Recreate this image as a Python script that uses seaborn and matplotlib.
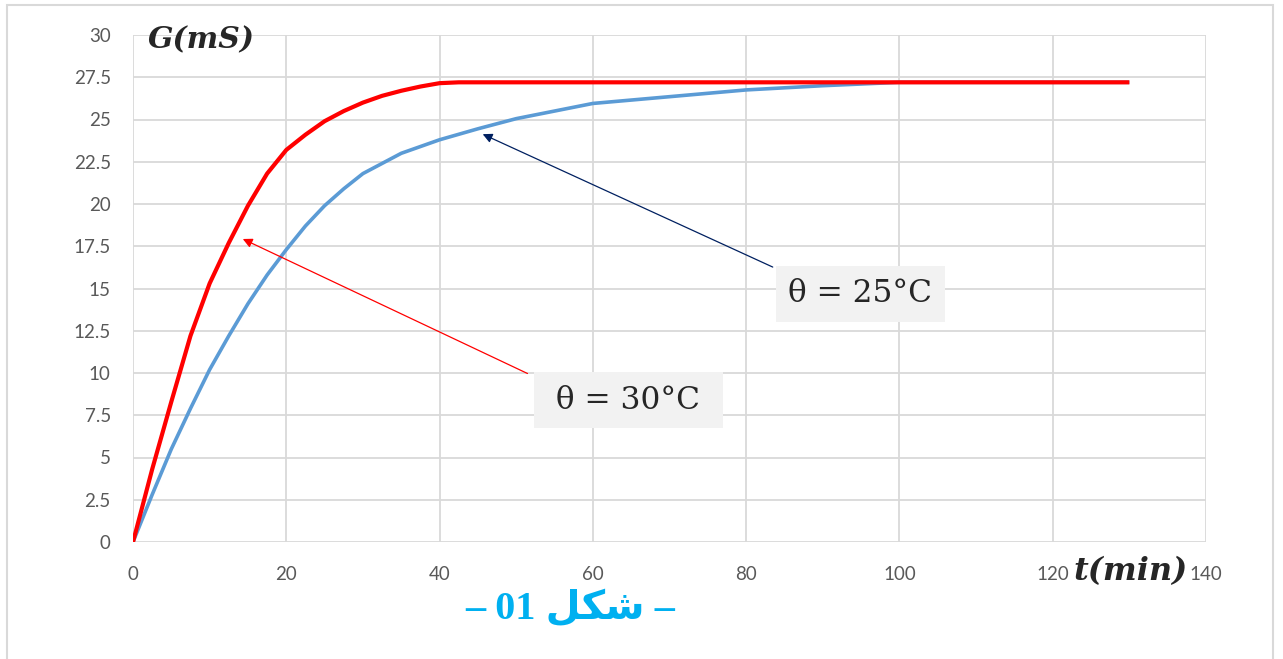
import numpy as np
import pandas as pd
import matplotlib
matplotlib.use("Agg")
import matplotlib.pyplot as plt
import seaborn as sns
from matplotlib.patches import Rectangle
from matplotlib.ticker import FuncFormatter, MultipleLocator

# data
t_30 = [0, 2.5, 5, 7.5, 10, 12.5, 15, 17.5, 20, 22.5, 25, 27.5, 30, 32.5, 35, 37.5, 40,
        42.5, 45, 50, 60, 80, 100, 130]
g_30 = [0, 4.3, 8.3, 12.2, 15.3, 17.7, 19.9, 21.8, 23.2, 24.1, 24.9, 25.5, 26.0, 26.4, 26.7,
        26.95, 27.15, 27.2, 27.2, 27.2, 27.2, 27.2, 27.2, 27.2]
t_25 = [0, 2.5, 5, 7.5, 10, 12.5, 15, 17.5, 20, 22.5, 25, 27.5, 30, 35, 40, 45, 50, 55, 60,
        70, 80, 90, 100, 110, 130]
g_25 = [0, 2.8, 5.5, 7.9, 10.2, 12.2, 14.1, 15.8, 17.3, 18.7, 19.9, 20.9, 21.8, 23.0, 23.8,
        24.45, 25.05, 25.5, 25.95, 26.35, 26.75, 27.0, 27.2, 27.2, 27.2]
series = ["30", "25"]
colors = ["#ff0000", "#5b9bd5"]
x_ticks = [0, 20, 40, 60, 80, 100, 120, 140]

df = pd.concat([
    pd.DataFrame({"t": t_30, "G": g_30, "theta": series[0]}),
    pd.DataFrame({"t": t_25, "G": g_25, "theta": series[1]}),
])

sns.set_style("white")
plt.rcParams["font.family"] = ["Lato", "DejaVu Sans"]

fig = plt.figure(figsize=(12.83, 6.59), dpi=100)
ax = fig.add_axes([133 / 1283, 1 - 542 / 659, (1206 - 133) / 1283, (542 - 35) / 659])

# outer chart frame
fig.patches.append(Rectangle((7 / 1283, -0.02), 1266 / 1283, 1 - 5 / 659 + 0.02,
                             transform=fig.transFigure, fill=False,
                             edgecolor="#d9d9d9", linewidth=1.5))

sns.lineplot(data=df, x="t", y="G", hue="theta", palette=dict(zip(series, colors)),
             ax=ax, legend=False, estimator=None, sort=True)
ax.lines[0].set_linewidth(3.0)
ax.lines[1].set_linewidth(2.6)
ax.lines[1].set_zorder(3)
ax.lines[0].set_zorder(4)
for ln in ax.lines:
    ln.set_solid_joinstyle("round")
    ln.set_solid_capstyle("butt")

ax.set_xlim(0, 140)
ax.set_ylim(0, 30)
ax.set_xticks(x_ticks)
ax.yaxis.set_major_locator(MultipleLocator(2.5))
ax.yaxis.set_major_formatter(FuncFormatter(lambda v, p: f"{v:g}"))
ax.grid(True, color="#d9d9d9", linewidth=1.3)
ax.set_axisbelow(True)
for s in ax.spines.values():
    s.set_visible(False)
ax.tick_params(length=0, labelsize=13.5, labelcolor="#595959")
ax.tick_params(axis="x", pad=17)
ax.tick_params(axis="y", pad=16)
ax.set_xlabel("")
ax.set_ylabel("")

# axis titles
fig.text(201 / 1283, 1 - 40 / 659, "G(mS)", ha="center", va="center", fontsize=21.5,
         family="DejaVu Serif", style="italic", weight="bold")
fig.text(1131 / 1283, 1 - 572 / 659, "t(min)", ha="center", va="center", fontsize=23,
         family="DejaVu Serif", style="italic", weight="bold")

# annotations
ax.annotate("", xy=(14.0, 18.0), xytext=(51.8, 9.9),
            arrowprops=dict(arrowstyle="-|>", color="#ff0000", lw=0.9, mutation_scale=14))
ax.annotate("", xy=(45.3, 24.2), xytext=(83.8, 16.2),
            arrowprops=dict(arrowstyle="-|>", color="#002060", lw=0.9, mutation_scale=14))
box = dict(boxstyle="square,pad=0.4", facecolor="#f2f2f2", edgecolor="none")
ax.text(64.6, 8.4, " θ = 30°C ", ha="center", va="center", fontsize=22.5,
        family="DejaVu Serif", bbox=box, zorder=6)
ax.text(94.9, 14.7, "θ = 25°C", ha="center", va="center", fontsize=22.5,
        family="DejaVu Serif", bbox=box, zorder=6)

# caption (Arabic presentation forms, visual order)
fig.text(570 / 1283, 1 - 609 / 659, "– 01 \uFEDE\uFEDC\uFEB7 –", ha="center", va="center",
         fontsize=29, color="#00b0f0", weight="bold",
         family=["Liberation Serif", "DejaVu Sans"])

fig.savefig("out.png", dpi=100)
